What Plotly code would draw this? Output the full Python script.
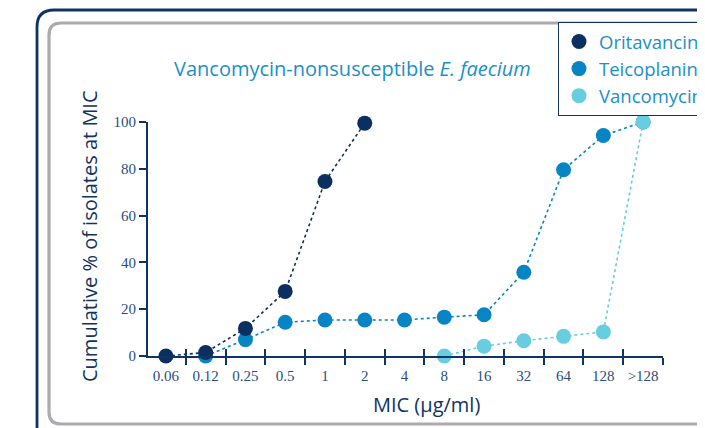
import plotly.graph_objects as go

W, H = 760, 428
OFF = 8  # page body margin offset

mic_labels = ["0.06", "0.12", "0.25", "0.5", "1", "2", "4", "8", "16", "32", "64", "128", ">128"]
oritavancin = [0, 1.5, 11.8, 27.6, 74.6, 99.5, None, None, None, None, None, None, None]
teicoplanin = [None, 0, 7, 14.4, 15.4, 15.4, 15.4, 16.6, 17.6, 35.8, 79.6, 94.2, 100]
vancomycin = [None, None, None, None, None, None, None, 0, 4.2, 6.5, 8.4, 10.3, 100]
y_ticks = [0, 20, 40, 60, 80, 100]

C_ORI = "#0b2f5e"
C_TEI = "#0784c3"
C_VAN = "#68cde0"
NAVY = "#0f3462"
TXT_BLUE = "#1a8fc9"
SANS = "'Open Sans', Lato, sans-serif"
SERIF = "'Liberation Serif', 'DejaVu Serif', serif"


def fx(px):
    return (px - OFF) / W


def fy(py):
    return 1 - (py - OFF) / H


def px_path(cmds):
    out = []
    for c in cmds:
        if isinstance(c, str):
            out.append(c)
        else:
            x, y = c
            out.append(f"{fx(x):.5f},{fy(y):.5f}")
    return " ".join(out)


fig = go.Figure()
series = [("Teicoplanin", teicoplanin, C_TEI, 2),
          ("Oritavancin", oritavancin, C_ORI, 1),
          ("Vancomycin", vancomycin, C_VAN, 3)]

# dotted connecting lines (no legend)
for name, vals, color, rank in series:
    fig.add_trace(go.Scatter(
        x=mic_labels, y=vals, name=name, mode="lines", showlegend=False,
        line=dict(color=color, width=1.6, dash="dot"), cliponaxis=False, hoverinfo="skip",
    ))
# markers (legend entries)
for name, vals, color, rank in series:
    fig.add_trace(go.Scatter(
        x=mic_labels, y=vals, name=name, mode="markers",
        marker=dict(color=color, size=15), cliponaxis=False, legendrank=rank,
    ))

# helper trace to carry the category axis used for inward tick marks
fig.add_trace(go.Scatter(x=mic_labels, y=[None] * len(mic_labels), xaxis="x2", yaxis="y",
                         showlegend=False, hoverinfo="skip", mode="markers"))

xdom = [fx(148), fx(663)]
ydom = [fy(356), fy(122)]
xr = [-0.45, 12.5]

common_x = dict(type="category", categoryarray=mic_labels, categoryorder="array",
                range=xr, domain=xdom, tickson="boundaries", ticklen=7, tickwidth=1.6,
                tickcolor=NAVY, showgrid=False, zeroline=False, tickangle=0)

fig.update_layout(
    width=W, height=H,
    margin=dict(l=0, r=0, t=0, b=0, autoexpand=False),
    paper_bgcolor="white", plot_bgcolor="rgba(0,0,0,0)",
    showlegend=True,
    xaxis=dict(**common_x, ticks="outside", showline=True, linecolor=NAVY, linewidth=2,
               anchor="y", ticklabelstandoff=5,
               tickfont=dict(family=SERIF, size=15, color="#2d4d7a")),
    xaxis2=dict(**common_x, ticks="inside", showline=False, showticklabels=False,
                overlaying="x", anchor="y"),
    yaxis=dict(range=[0, 100], domain=ydom, tickvals=y_ticks, ticks="outside", ticklen=7,
               tickwidth=1.6, tickcolor=NAVY, showline=True, linecolor=NAVY, linewidth=2,
               showgrid=False, zeroline=False, anchor="x",
               tickfont=dict(family=SERIF, size=15, color="#2d4d7a")),
    yaxis2=dict(range=[0, 100], tickvals=y_ticks, ticks="inside", ticklen=7, tickwidth=1.6,
                tickcolor=NAVY, showline=False, showticklabels=False, showgrid=False,
                zeroline=False, overlaying="y", anchor="x"),
    legend=dict(x=fx(558), y=fy(22), xanchor="left", yanchor="top",
                bordercolor=NAVY, borderwidth=1, bgcolor="white",
                font=dict(family=SANS, size=18.5, color=TXT_BLUE),
                itemsizing="trace", tracegroupgap=0, itemwidth=30),
    annotations=[
        dict(text="Vancomycin-nonsusceptible <i>E. faecium</i>",
             x=fx(352), y=fy(68), xref="paper", yref="paper", showarrow=False,
             font=dict(family=SANS, size=20, color=TXT_BLUE),
             xanchor="center", yanchor="middle"),
        dict(text="MIC (μg/ml)",
             x=fx(426), y=fy(404), xref="paper", yref="paper", showarrow=False,
             font=dict(family=SANS, size=20, color=NAVY),
             xanchor="center", yanchor="middle"),
        dict(text="Cumulative % of isolates at MIC", textangle=-90,
             x=fx(90), y=fy(236), xref="paper", yref="paper", showarrow=False,
             font=dict(family=SANS, size=20, color=NAVY),
             xanchor="center", yanchor="middle"),
    ],
    shapes=[
        dict(type="path", xref="paper", yref="paper", layer="below",
             path=px_path(["M", (790, 10), "L", (54, 10), "Q", (37, 10), (37, 27), "L", (37, 460)]),
             line=dict(color=NAVY, width=2.8)),
        dict(type="path", xref="paper", yref="paper", layer="below",
             path=px_path(["M", (790, 23), "L", (61, 23), "Q", (49, 23), (49, 35),
                           "L", (49, 412), "Q", (49, 424), (61, 424), "L", (790, 424)]),
             line=dict(color="#a9abae", width=3.2)),
    ],
)

fig.write_html("out.html")
